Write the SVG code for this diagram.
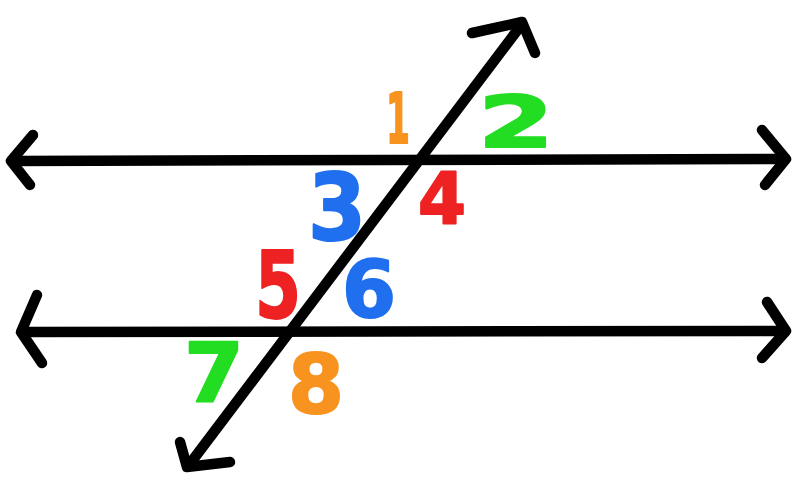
<svg xmlns="http://www.w3.org/2000/svg" width="796" height="488" viewBox="0 0 796 488">
<style>
.ln{fill:none;stroke:#000;stroke-width:10.5;stroke-linecap:round;stroke-linejoin:round}
.n{font-family:"DejaVu Sans","Liberation Sans",sans-serif;font-weight:bold;stroke-width:2;stroke-linejoin:round}
.o{fill:#f7931e;stroke:#f7931e}
.g{fill:#22dd22;stroke:#22dd22}
.r{fill:#ee2222;stroke:#ee2222}
.b{fill:#1f6fef;stroke:#1f6fef}
</style>
<rect width="796" height="488" fill="#fff"/>
<g id="connectors">
<line class="ln" x1="12" y1="161" x2="785" y2="159"/>
<polyline class="ln" points="33,135 11,161 30,185"/>
<polyline class="ln" points="762,130 786,159 765,185"/>
<line class="ln" x1="22" y1="332" x2="785" y2="331"/>
<polyline class="ln" points="37,295 21,332 42,363"/>
<polyline class="ln" points="767,302 786,331 762,358"/>
<line class="ln" x1="189" y1="465" x2="522" y2="24"/>
<polyline class="ln" points="472,33 522,22 535,53"/>
<polyline class="ln" points="180,442 187,467 230,462"/>
</g>
<g id="label-1"><text class="n o" x="386" y="143" font-size="70" textLength="24" lengthAdjust="spacingAndGlyphs">1</text></g>
<g id="label-2"><text class="n g" x="478" y="147" font-size="71" textLength="76" lengthAdjust="spacingAndGlyphs">2</text></g>
<g id="label-3"><text class="n b" x="308" y="240" font-size="92" textLength="58" lengthAdjust="spacingAndGlyphs">3</text></g>
<g id="label-4"><text class="n r" x="418" y="223" font-size="72" textLength="48" lengthAdjust="spacingAndGlyphs">4</text></g>
<g id="label-5"><text class="n r" x="255" y="318" font-size="92" textLength="46" lengthAdjust="spacingAndGlyphs">5</text></g>
<g id="label-6"><text class="n b" x="342" y="317" font-size="78" textLength="54" lengthAdjust="spacingAndGlyphs">6</text></g>
<g id="label-7"><text class="n g" x="184" y="402" font-size="82" textLength="60" lengthAdjust="spacingAndGlyphs">7</text></g>
<g id="label-8"><text class="n o" x="288" y="413" font-size="82" textLength="56" lengthAdjust="spacingAndGlyphs">8</text></g>
</svg>
